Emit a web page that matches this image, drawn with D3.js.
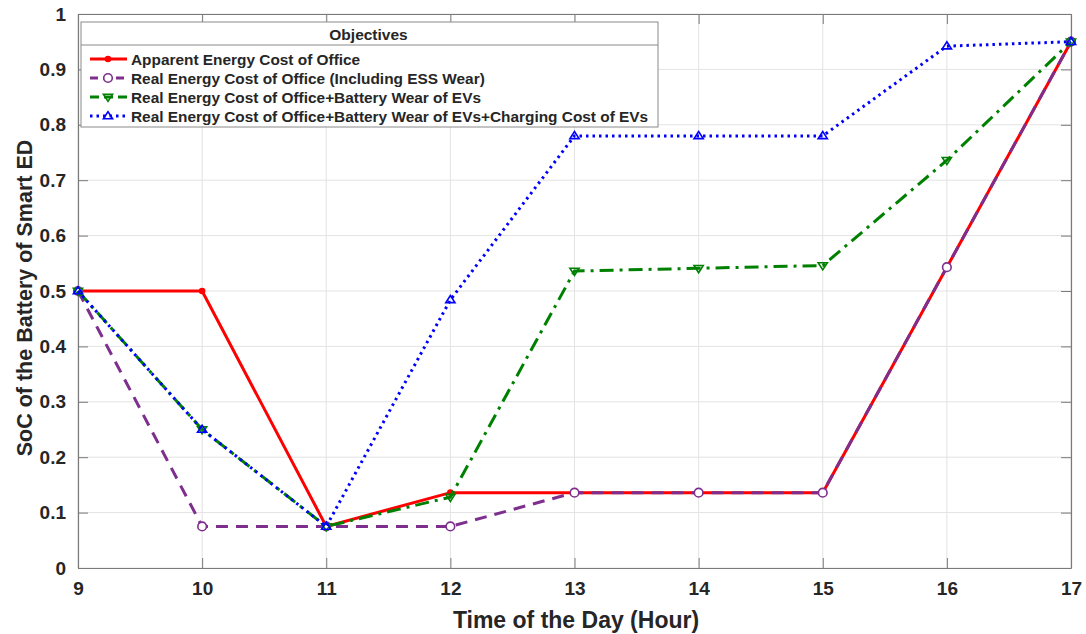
<!DOCTYPE html>
<html>
<head>
<meta charset="utf-8">
<script src="https://cdn.jsdelivr.net/npm/d3@7"></script>
<style>
  html, body { margin: 0; padding: 0; background: #fff; }
  text { font-family: "Liberation Sans", Arial, Helvetica, sans-serif; }
</style>
</head>
<body>
<svg id="chart" width="1086" height="634"></svg>
<script>
// Hours of the day (x axis)
const hours = [9, 10, 11, 12, 13, 14, 15, 16, 17];

// State of charge of the smart ED battery under each objective
const apparentCost   = [0.50, 0.50, 0.075, 0.136, 0.136, 0.136, 0.136, 0.543, 0.95];
const realCostESS    = [0.50, 0.075, 0.075, 0.075, 0.136, 0.136, 0.136, 0.543, 0.95];
const realCostEVWear = [0.50, 0.25, 0.075, 0.128, 0.536, 0.541, 0.546, 0.736, 0.95];
const realCostEVFull = [0.50, 0.25, 0.075, 0.484, 0.780, 0.780, 0.780, 0.942, 0.95];

const seriesNames = [
  "Apparent Energy Cost of Office",
  "Real Energy Cost of Office (Including ESS Wear)",
  "Real Energy Cost of Office+Battery Wear of EVs",
  "Real Energy Cost of Office+Battery Wear of EVs+Charging Cost of EVs"
];

const xTicks = [9, 10, 11, 12, 13, 14, 15, 16, 17];
const yTicks = [0, 0.1, 0.2, 0.3, 0.4, 0.5, 0.6, 0.7, 0.8, 0.9, 1];

const styles = [
  { color: "#ff0000", dash: null,       legendDash: null,    marker: "dot" },
  { color: "#7e2f8e", dash: "12,8",     legendDash: "8,5",   marker: "circle" },
  { color: "#008000", dash: "14,6,3,6", legendDash: "9,5",   marker: "down" },
  { color: "#0000ff", dash: "2.5,4",    legendDash: "2.5,4", marker: "up" }
];
const seriesData = [apparentCost, realCostESS, realCostEVWear, realCostEVFull];

const svg = d3.select("#chart");
const L = 78, R = 1071, T = 14, B = 568;

const x = d3.scaleLinear().domain([9, 17]).range([L, R]);
const y = d3.scaleLinear().domain([0, 1]).range([B, T]);

// grid
const grid = svg.append("g");
grid.selectAll("line.gx").data(xTicks).join("line")
  .attr("x1", d => x(d)).attr("x2", d => x(d)).attr("y1", T).attr("y2", B)
  .attr("stroke", "#e3e3e3").attr("stroke-width", 1);
grid.selectAll("line.gy").data(yTicks).join("line")
  .attr("y1", d => y(d)).attr("y2", d => y(d)).attr("x1", L).attr("x2", R)
  .attr("stroke", "#e3e3e3").attr("stroke-width", 1);

// axes (box with inward ticks on all four sides)
const axisColor = "#7a7a7a";
const xAxis = svg.append("g").attr("transform", `translate(0,${B})`)
  .call(d3.axisBottom(x).tickValues(xTicks).tickFormat(d3.format("d")).tickSizeInner(-10).tickSizeOuter(0).tickPadding(14));
const yAxis = svg.append("g").attr("transform", `translate(${L},0)`)
  .call(d3.axisLeft(y).tickValues(yTicks).tickFormat(d => d === 0 || d === 1 ? String(d) : d3.format(".1f")(d)).tickSizeInner(-10).tickSizeOuter(0).tickPadding(12));
const xAxisTop = svg.append("g").attr("transform", `translate(0,${T})`)
  .call(d3.axisTop(x).tickValues(xTicks).tickFormat("").tickSizeInner(-10).tickSizeOuter(0));
const yAxisRight = svg.append("g").attr("transform", `translate(${R},0)`)
  .call(d3.axisRight(y).tickValues(yTicks).tickFormat("").tickSizeInner(-10).tickSizeOuter(0));

[xAxis, yAxis, xAxisTop, yAxisRight].forEach(g => {
  g.select(".domain").attr("stroke", axisColor).attr("stroke-width", 1.2);
  g.selectAll(".tick line").attr("stroke", axisColor).attr("stroke-width", 1);
  g.selectAll(".tick text").attr("fill", "#262626")
    .style("font-size", "19px").style("font-weight", "bold");
});
xAxis.selectAll(".tick text").attr("dy", "0.71em");

// axis titles
svg.append("text").attr("x", 576).attr("y", 628)
  .attr("text-anchor", "middle").attr("fill", "#262626")
  .style("font-size", "23px").style("font-weight", "bold")
  .text("Time of the Day (Hour)");
svg.append("text")
  .attr("transform", `translate(32,298) rotate(-90)`)
  .attr("text-anchor", "middle").attr("fill", "#262626")
  .style("font-size", "21.5px").style("font-weight", "bold")
  .text("SoC of the Battery of Smart ED");

const line = d3.line().x((d, i) => x(hours[i])).y(d => y(d));

function drawMarker(g, kind, color, cx, cy) {
  if (kind === "dot") {
    g.append("circle").attr("cx", cx).attr("cy", cy).attr("r", 3.3).attr("fill", color);
  } else if (kind === "circle") {
    g.append("circle").attr("cx", cx).attr("cy", cy).attr("r", 4.3)
      .attr("fill", "#fff").attr("stroke", color).attr("stroke-width", 1.6);
  } else if (kind === "down") {
    const s = 4.6;
    g.append("path").attr("d", `M${cx - s},${cy - s * 0.6}L${cx + s},${cy - s * 0.6}L${cx},${cy + s * 0.95}Z`)
      .attr("fill", "none").attr("stroke", color).attr("stroke-width", 1.6);
  } else if (kind === "up") {
    const s = 4.6;
    g.append("path").attr("d", `M${cx - s},${cy + s * 0.6}L${cx + s},${cy + s * 0.6}L${cx},${cy - s * 0.95}Z`)
      .attr("fill", "none").attr("stroke", color).attr("stroke-width", 1.6);
  }
}

const plot = svg.append("g");
seriesData.forEach((vals, k) => {
  const st = styles[k];
  plot.append("path").datum(vals).attr("d", line)
    .attr("fill", "none").attr("stroke", st.color).attr("stroke-width", 3)
    .attr("stroke-dasharray", st.dash);
  const mg = plot.append("g");
  vals.forEach((v, i) => drawMarker(mg, st.marker, st.color, x(hours[i]), y(v)));
});

// legend
const lg = svg.append("g");
const lx = 81, ly = 22, lw = 577, lh = 105;
lg.append("rect").attr("x", lx).attr("y", ly).attr("width", lw).attr("height", lh)
  .attr("fill", "#fff").attr("stroke", "#8a8a8a").attr("stroke-width", 1);
lg.append("line").attr("x1", lx).attr("x2", lx + lw).attr("y1", ly + 23).attr("y2", ly + 23)
  .attr("stroke", "#8a8a8a").attr("stroke-width", 1);
lg.append("text").attr("x", lx + lw / 2 - 1).attr("y", ly + 18).attr("text-anchor", "middle")
  .attr("fill", "#262626").style("font-size", "15.5px").style("font-weight", "bold").text("Objectives");
seriesNames.forEach((name, k) => {
  const st = styles[k];
  const ry = ly + 37 + k * 19;
  lg.append("line").attr("x1", lx + 9).attr("x2", lx + 46).attr("y1", ry).attr("y2", ry)
    .attr("stroke", st.color).attr("stroke-width", 3)
    .attr("stroke-dasharray", st.legendDash);
  drawMarker(lg, st.marker, st.color, lx + 27, ry);
  lg.append("text").attr("x", lx + 50).attr("y", ry + 5.5)
    .attr("fill", "#262626").style("font-size", "15.4px").style("font-weight", "bold").text(name);
});
</script>
</body>
</html>
